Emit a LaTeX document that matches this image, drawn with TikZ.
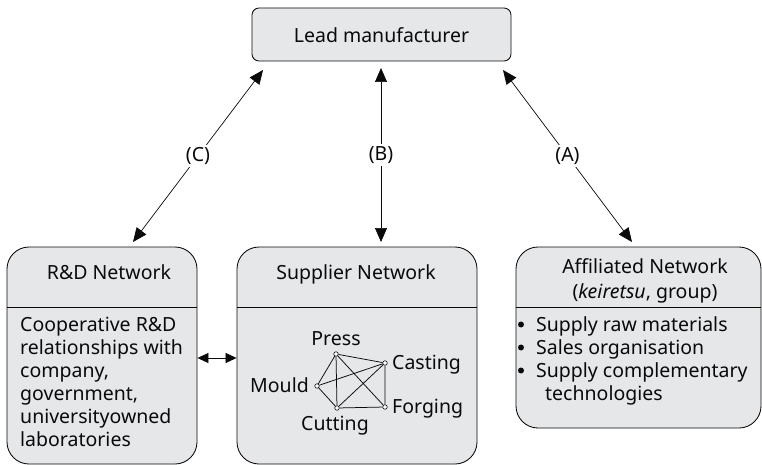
\documentclass[tikz,border=0pt]{standalone}
\usepackage{fontspec}
\setmainfont{Noto Sans}
\usetikzlibrary{arrows.meta}
\definecolor{boxfill}{RGB}{230,231,233}
\definecolor{ink}{RGB}{10,10,10}
\tikzset{
  box/.style={draw=ink, fill=boxfill, line width=0.85pt, inner sep=0pt},
  bigbox/.style={box, rounded corners=22pt},
  txt/.style={font=\fontsize{19.5}{23}\selectfont, inner sep=0pt, text=ink, anchor=base west},
  txtc/.style={txt, anchor=base},
  link/.style={draw=ink, line width=0.7pt, {Triangle[length=14pt,width=12pt]}-{Triangle[length=14pt,width=12pt]}},
  lbl/.style={font=\fontsize{19.5}{23}\selectfont, fill=white, inner sep=2pt, text=ink},
  dot/.style={circle, draw=ink, fill=white, line width=0.6pt, inner sep=0pt, minimum size=4.5pt},
  edge/.style={draw=ink, line width=0.75pt},
  bul/.style={circle, fill=ink, inner sep=0pt, minimum size=6pt}
}
\begin{document}
\begin{tikzpicture}[x=1pt, y=-1pt]
\useasboundingbox (0,0) rectangle (762,465);
% boxes
\node[box, rounded corners=7pt, minimum width=259pt, minimum height=53pt] (lead) at (381.5,34.5) {};
\node[txtc] (leadt) at (381.5,42.5) {Lead manufacturer};
\node[bigbox, minimum width=190pt, minimum height=217pt] (rd) at (102,355.5) {};
\node[bigbox, minimum width=240pt, minimum height=217pt] (sup) at (357,355.5) {};
\node[bigbox, minimum width=245pt, minimum height=181pt] (aff) at (638.5,337.5) {};
\coordinate (div) at (0,307);
\draw[line width=0.85pt, ink] (rd.west |- div) -- (rd.east |- div);
\draw[line width=0.85pt, ink] (sup.west |- div) -- (sup.east |- div);
\draw[line width=0.85pt, ink] (aff.west |- div) -- (aff.east |- div);
% titles
\node[txtc] (rdt) at (109,279) {R\&D Network};
\node[txtc] (supt) at (356,279) {Supplier Network};
\node[txtc] (afft1) at (645,273) {Affiliated Network};
\node[txtc] (afft2) at (645,298) {(\textit{keiretsu}, group)};
% R&D body
\node[txt] (rd1) at (20,331) {Cooperative R\&D};
\node[txt] (rd2) at (20,354) {relationships with};
\node[txt] (rd3) at (20,377) {company,};
\node[txt] (rd4) at (20,400) {government,};
\node[txt] (rd5) at (20,423) {universityowned};
\node[txt] (rd6) at (20,446) {laboratories};
% Affiliated body
\node[bul] (b1) at (521,324.5) {};
\node[txt] (a1) at (536,331) {Supply raw materials};
\node[bul] (b2) at (521,347.5) {};
\node[txt] (a2) at (536,354) {Sales organisation};
\node[bul] (b3) at (521,370.5) {};
\node[txt] (a3) at (536,377) {Supply complementary};
\node[txt] (a4) at (545,400) {technologies};
% supplier network
\node[dot] (press) at (336,354) {};
\node[dot] (cast) at (385,363) {};
\node[dot] (mould) at (317,386) {};
\node[dot] (cut) at (337,408) {};
\node[dot] (forg) at (385,407) {};
\draw[edge] (press) -- (cast) (press) -- (mould) (press) -- (cut) (press) -- (forg)
  (mould) -- (cast) (mould) -- (cut) (cut) -- (cast) (cut) -- (forg) (cast) -- (forg);
\node[txtc] (presst) at (336,345) {Press};
\node[txt] (castt) at (392,369) {Casting};
\node[txt, anchor=base east] (mouldt) at (309,392) {Mould};
\node[txt] (forgt) at (392,413) {Forging};
\node[txtc] (cutt) at (335,430) {Cutting};
% connectors
\coordinate (c1) at (263,70);
\coordinate (c2) at (133,242);
\coordinate (a1e) at (503,70);
\coordinate (a2e) at (632,242);
\coordinate (b1e) at (381,68);
\coordinate (b2e) at (381,242);
\draw[link] (c1) -- node[lbl] (lc) {(C)} (c2);
\draw[link] (b1e) -- node[lbl] (lb) {(B)} (b2e);
\draw[link] (a1e) -- node[lbl] (la) {(A)} (a2e);
\coordinate (d) at (0,358);
\draw[draw=ink, line width=0.7pt, {Triangle[length=11pt,width=10pt]}-{Triangle[length=11pt,width=10pt]}] (rd.east |- d) -- (sup.west |- d);
\end{tikzpicture}
\end{document}
